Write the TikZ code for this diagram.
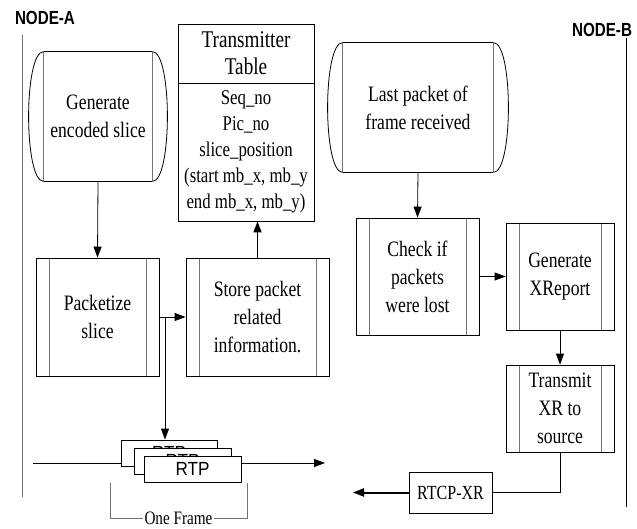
\documentclass[tikz,border=0pt]{standalone}
\usepackage{fontspec}
\setmainfont{Liberation Serif}[FakeStretch=0.8]
\newfontfamily\rtpfont{Liberation Sans}[FakeStretch=0.9]
\newfontfamily\nodefont{Liberation Sans}[FakeStretch=0.8]
\usetikzlibrary{arrows.meta}

\tikzstyle{proc}=[draw,inner sep=0pt,align=center,
  path picture={\draw[black!55]
    ([xshift=13pt]path picture bounding box.north west) -- ([xshift=13pt]path picture bounding box.south west)
    ([xshift=-13pt]path picture bounding box.north east) -- ([xshift=-13pt]path picture bounding box.south east);}]
\tikzstyle{stored}=[inner sep=0pt,align=center]
\tikzstyle{rtpbox}=[draw,fill=white,inner sep=0pt,minimum height=26pt,font=\rtpfont\fontsize{19}{20}\selectfont]
\tikzstyle{lbl}=[font=\nodefont\bfseries\fontsize{19}{20}\selectfont]
\tikzstyle{arr}=[-{Triangle[length=11pt,width=8pt]}]

\begin{document}
\begin{tikzpicture}[x=1pt,y=-1pt,line width=0.8pt,font=\fontsize{22}{28}\selectfont]
   \useasboundingbox (0,0) rectangle (637,529);

   % Nodes and life lines
   \node[lbl] (nodea) at (45,18) {NODE-A};
   \node[lbl] (nodeb) at (602,30) {NODE-B};
   \draw[black!55] (22,35) -- (22,497);
   \draw (626,38) -- (626,507);

% Sender side
   \node[stored,minimum width=108pt,minimum height=129pt] (gen) at (98,116.5) {Generate\\encoded slice};
   \node[draw,inner sep=0pt,align=center,minimum width=136pt,minimum height=59pt,
     font=\fontsize{24}{27}\selectfont] (tblhd) at (246,53.5) {Transmitter\\Table};
   \node[draw,inner sep=0pt,align=center,minimum width=136pt,minimum height=138pt,
     font=\fontsize{21}{26}\selectfont] (tbl) at (246,152) {Seq\_no\\Pic\_no\\slice\_position\\(start mb\_x, mb\_y\\end mb\_x, mb\_y)};
   \node[proc,minimum width=123pt,minimum height=118pt] (pkt) at (97.5,317) {Packetize\\slice};
   \node[proc,minimum width=143pt,minimum height=118pt] (store) at (257.5,317) {Store packet\\related\\information.};

   % RTP stream
   \coordinate (tl0) at (33,463);
   \coordinate (tl1) at (325,463);
   \draw[arr] (tl0) -- (tl1);
   \node[rtpbox,minimum width=96pt] (rtp1) at (169,453) {RTP};
   \node[rtpbox,minimum width=97pt] (rtp2) at (182.5,461) {RTP};
   \node[rtpbox,minimum width=97pt] (rtp3) at (192.5,469) {RTP};
   \draw[black!55] (110,483) -- (110,518) -- node[fill=white,text=black,inner sep=2pt,
     font=\fontsize{19}{20}\selectfont] (frm) {One Frame} (247,518) -- (247,483);

% Receiver side
   \node[stored,minimum width=150pt,minimum height=129pt] (last) at (418,107.5) {Last packet of\\frame received};
   \node[proc,minimum width=123pt,minimum height=117pt] (chk) at (417.5,276.5) {Check if\\packets\\were lost};
   \node[proc,minimum width=108pt,minimum height=107pt] (xrep) at (560,276.5) {Generate\\XReport};
   \node[proc,minimum width=108pt,minimum height=87pt] (txr) at (560,408.5) {Transmit\\XR to\\source};
   \node[draw,inner sep=0pt,minimum width=83pt,minimum height=41pt,
     font=\fontsize{20}{22}\selectfont] (rtcp) at (450.5,492.5) {RTCP-XR};
   \coordinate (rxend) at (353,492.5);

   \foreach \n in {gen,last}{
     \draw (\n.north west) -- (\n.north east) (\n.south west) -- (\n.south east);
     \draw[black!55] (\n.north west) -- (\n.south west) (\n.north east) -- (\n.south east);
     \draw (\n.north west) .. controls +(-20,0) and +(-20,0) .. (\n.south west);
     \draw (\n.north east) .. controls +(20,0) and +(20,0) .. (\n.south east);
   }

   % Connectors
   \coordinate (br) at (165,317);
   \draw[arr] (gen.south) -- (pkt.north);
   \draw[arr] (pkt.east) -- (store.west);
   \draw[arr] (br) -- (br |- rtp1.north);
   \draw[arr,line width=1.6pt] (store.north) -- (store.north |- tbl.south);
   \draw[arr] (last.south) -- (chk.north);
   \draw[arr] (chk) -- (xrep);
   \draw[arr] (xrep) -- (txr);
   \draw (txr.south) |- (rtcp.east);
   \draw[arr,line width=2pt] (rtcp.west) -- (rxend);

\end{tikzpicture}
\end{document}
